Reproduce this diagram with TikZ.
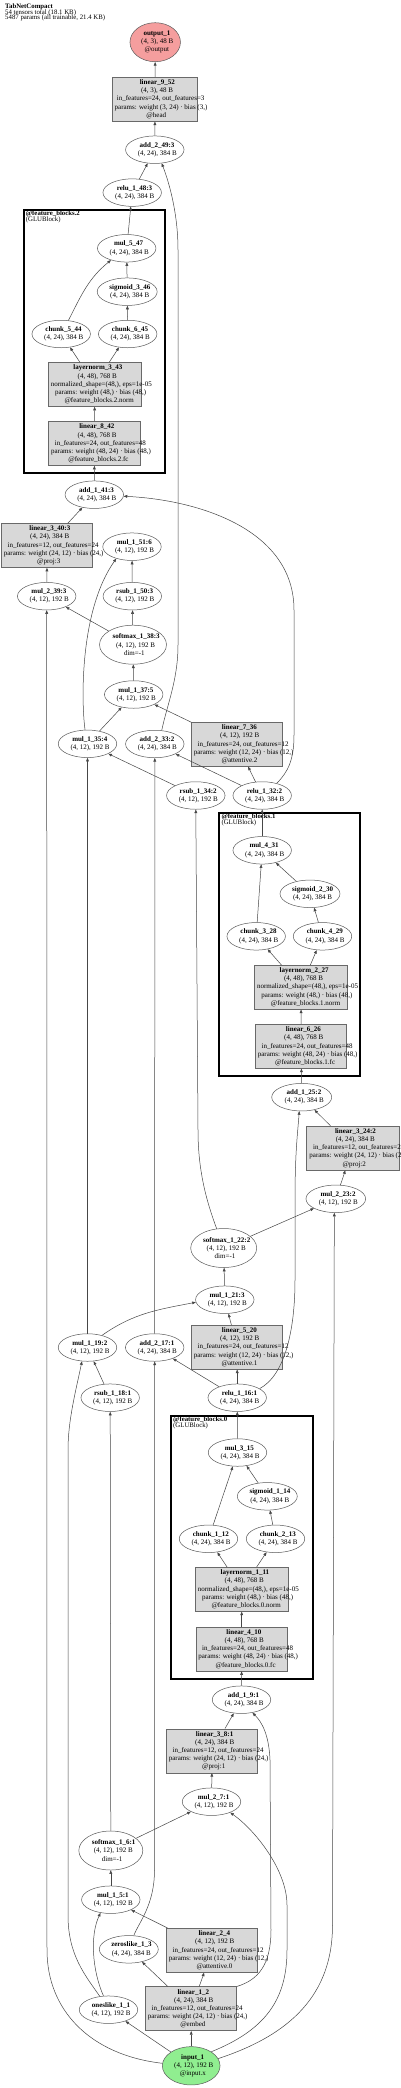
\documentclass[tikz,border=0pt]{standalone}
\usepackage{fontspec}
\setmainfont{Liberation Serif}
\usetikzlibrary{shapes.geometric,arrows.meta}
\definecolor{boxfill}{RGB}{216,216,216}
\definecolor{boxline}{RGB}{105,105,105}
\definecolor{ellline}{RGB}{90,90,90}
\definecolor{edgecol}{RGB}{70,70,70}
\definecolor{outfill}{RGB}{245,158,158}
\definecolor{infill}{RGB}{144,238,144}
\newcommand\gl[1]{\makebox[0.87\width][l]{#1}}
\newcommand\gtwo[2]{\gl{\textbf{#1}}\\\gl{#2}}
\newcommand\gthree[3]{\gl{\textbf{#1}}\\\gl{#2}\\\gl{#3}}
\newcommand\gfive[5]{\gl{\textbf{#1}}\\\gl{#2}\\\gl{#3}\\\gl{#4}\\\gl{#5}}
\tikzset{
  nd/.style={inner sep=0pt, align=center, font=\fontsize{7}{8.2}\selectfont},
  ell/.style={nd, ellipse, draw=ellline, line width=0.5pt, fill=white, minimum width=58.5pt, minimum height=27.5pt},
  smx/.style={ell, minimum width=66pt, minimum height=39pt},
  sbox/.style={nd, rectangle, draw=boxline, line width=0.6pt, fill=boxfill, minimum width=91pt, minimum height=44pt},
  clus/.style={draw=black, line width=2pt, inner sep=0pt},
  clab/.style={anchor=north west, inner sep=0pt, align=left, font={\fontsize{6.8}{5.9}\selectfont\lineskiplimit=-10pt}, xshift=3pt, yshift=-1.5pt},
  e/.style={draw=edgecol, line width=0.5pt, -{Triangle[length=3.6pt,width=2.8pt]}},
}
\begin{document}
\begin{tikzpicture}[x=1pt,y=-1pt]
\useasboundingbox (0,0) rectangle (400,2088);
\fill[white] (0,0) rectangle (400,2088);

\node[anchor=north west, inner sep=0pt, align=left, font={\fontsize{6.8}{5.9}\selectfont\lineskiplimit=-10pt}] (title) at (5,3.2) {\textbf{TabNetCompact}\\54 tensors total (18.1 KB)\\5487 params (all trainable, 21.4 KB)};

% clusters
\node[clus, minimum width=141.3pt, minimum height=262.7pt] (fb2) at (94.35,341.65) {};
\node[clab] (fb2lab) at (fb2.north west) {\textbf{@feature\_blocks.2}\\(GLUBlock)};
\node[clus, minimum width=140.7pt, minimum height=262.4pt] (fb1) at (289.65,944.5) {};
\node[clab] (fb1lab) at (fb1.north west) {\textbf{@feature\_blocks.1}\\(GLUBlock)};
\node[clus, minimum width=142pt, minimum height=263pt] (fb0) at (242,1547.5) {};
\node[clab] (fb0lab) at (fb0.north west) {\textbf{@feature\_blocks.0}\\(GLUBlock)};

% nodes
\node[ell, fill=outfill, minimum width=50.5pt, minimum height=39pt] (out1) at (155.2,42.2) {\gthree{output\_1}{(4, 3), 48 B}{@output}};
\node[sbox, minimum width=85.5pt] (lin952) at (155,99.2) {\gfive{linear\_9\_52}{(4, 3), 48 B}{in\_features=24, out\_features=3}{params: weight (3, 24) · bias (3,)}{@head}};
\node[ell] (add249) at (154.8,149.7) {\gtwo{add\_2\_49:3}{(4, 24), 384 B}};
\node[ell] (relu148) at (132.2,192.6) {\gtwo{relu\_1\_48:3}{(4, 24), 384 B}};
\node[ell] (mul547) at (126.7,248.3) {\gtwo{mul\_5\_47}{(4, 24), 384 B}};
\node[ell, minimum width=60pt] (sig346) at (127.2,291.7) {\gtwo{sigmoid\_3\_46}{(4, 24), 384 B}};
\node[ell] (ch544) at (61.2,334) {\gtwo{chunk\_5\_44}{(4, 24), 384 B}};
\node[ell] (ch645) at (127.7,334) {\gtwo{chunk\_6\_45}{(4, 24), 384 B}};
\node[sbox, minimum width=93pt] (ln343) at (94.7,384.5) {\gfive{layernorm\_3\_43}{(4, 48), 768 B}{normalized\_shape=(48,), eps=1e-05}{params: weight (48,) · bias (48,)}{@feature\_blocks.2.norm}};
\node[sbox, minimum width=91.7pt] (lin842) at (94.5,443.5) {\gfive{linear\_8\_42}{(4, 48), 768 B}{in\_features=24, out\_features=48}{params: weight (48, 24) · bias (48,)}{@feature\_blocks.2.fc}};
\node[ell] (add141) at (94.3,494.7) {\gtwo{add\_1\_41:3}{(4, 24), 384 B}};
\node[sbox] (lin340) at (47.2,545.5) {\gfive{linear\_3\_40:3}{(4, 24), 384 B}{in\_features=12, out\_features=24}{params: weight (24, 12) · bias (24,)}{@proj:3}};
\node[ell] (mul151) at (132,546.7) {\gtwo{mul\_1\_51:6}{(4, 12), 192 B}};
\node[ell] (mul239) at (46.7,596.2) {\gtwo{mul\_2\_39:3}{(4, 12), 192 B}};
\node[ell] (rsub150) at (132.3,596.2) {\gtwo{rsub\_1\_50:3}{(4, 12), 192 B}};
\node[smx, minimum width=67pt] (sm138) at (133,644.7) {\gthree{softmax\_1\_38:3}{(4, 12), 192 B}{dim=-1}};
\node[ell] (mul137) at (133.7,694.5) {\gtwo{mul\_1\_37:5}{(4, 12), 192 B}};
\node[ell] (mul135) at (87.5,743.8) {\gtwo{mul\_1\_35:4}{(4, 12), 192 B}};
\node[ell] (add233) at (154.8,744) {\gtwo{add\_2\_33:2}{(4, 24), 384 B}};
\node[sbox] (lin736) at (237.2,744.3) {\gfive{linear\_7\_36}{(4, 12), 192 B}{in\_features=24, out\_features=12}{params: weight (12, 24) · bias (12,)}{@attentive.2}};
\node[ell] (rsub134) at (195.8,795.5) {\gtwo{rsub\_1\_34:2}{(4, 12), 192 B}};
\node[ell] (relu132) at (262.2,795.5) {\gtwo{relu\_1\_32:2}{(4, 24), 384 B}};
\node[ell] (mul431) at (262.2,850.3) {\gtwo{mul\_4\_31}{(4, 24), 384 B}};
\node[ell, minimum width=60pt] (sig230) at (310,893.8) {\gtwo{sigmoid\_2\_30}{(4, 24), 384 B}};
\node[ell] (ch328) at (256.2,936.3) {\gtwo{chunk\_3\_28}{(4, 24), 384 B}};
\node[ell] (ch429) at (322.5,936.3) {\gtwo{chunk\_4\_29}{(4, 24), 384 B}};
\node[sbox, minimum width=93.3pt] (ln227) at (301,987.2) {\gfive{layernorm\_2\_27}{(4, 48), 768 B}{normalized\_shape=(48,), eps=1e-05}{params: weight (48,) · bias (48,)}{@feature\_blocks.1.norm}};
\node[sbox] (lin626) at (301.2,1046.3) {\gfive{linear\_6\_26}{(4, 48), 768 B}{in\_features=24, out\_features=48}{params: weight (48, 24) · bias (48,)}{@feature\_blocks.1.fc}};
\node[ell, minimum width=60pt] (add125) at (301.7,1097.2) {\gtwo{add\_1\_25:2}{(4, 24), 384 B}};
\node[sbox, minimum width=92.3pt] (lin324) at (352.8,1148) {\gfive{linear\_3\_24:2}{(4, 24), 384 B}{in\_features=12, out\_features=24}{params: weight (24, 12) · bias (24,)}{@proj:2}};
\node[ell, minimum width=59.7pt] (mul223) at (335.8,1198.8) {\gtwo{mul\_2\_23:2}{(4, 12), 192 B}};
\node[smx] (sm122) at (223.7,1248) {\gthree{softmax\_1\_22:2}{(4, 12), 192 B}{dim=-1}};
\node[ell] (mul121) at (224.8,1299.7) {\gtwo{mul\_1\_21:3}{(4, 12), 192 B}};
\node[sbox] (lin520) at (237.2,1347.2) {\gfive{linear\_5\_20}{(4, 12), 192 B}{in\_features=24, out\_features=12}{params: weight (12, 24) · bias (12,)}{@attentive.1}};
\node[ell] (mul119) at (87.5,1347.5) {\gtwo{mul\_1\_19:2}{(4, 12), 192 B}};
\node[ell] (add217) at (154.7,1347.5) {\gtwo{add\_2\_17:1}{(4, 24), 384 B}};
\node[ell] (relu116) at (237.2,1397.7) {\gtwo{relu\_1\_16:1}{(4, 24), 384 B}};
\node[ell] (rsub118) at (110.2,1397.7) {\gtwo{rsub\_1\_18:1}{(4, 12), 192 B}};
\node[ell] (mul315) at (237.5,1452.5) {\gtwo{mul\_3\_15}{(4, 24), 384 B}};
\node[ell, minimum width=60pt] (sig114) at (267.3,1496.3) {\gtwo{sigmoid\_1\_14}{(4, 24), 384 B}};
\node[ell] (ch112) at (208.5,1538.8) {\gtwo{chunk\_1\_12}{(4, 24), 384 B}};
\node[ell] (ch213) at (275.5,1538.8) {\gtwo{chunk\_2\_13}{(4, 24), 384 B}};
\node[sbox, minimum width=93.3pt] (ln111) at (241.7,1589.3) {\gfive{layernorm\_1\_11}{(4, 48), 768 B}{normalized\_shape=(48,), eps=1e-05}{params: weight (48,) · bias (48,)}{@feature\_blocks.0.norm}};
\node[sbox] (lin410) at (241.7,1649) {\gfive{linear\_4\_10}{(4, 48), 768 B}{in\_features=24, out\_features=48}{params: weight (48, 24) · bias (48,)}{@feature\_blocks.0.fc}};
\node[ell] (add19) at (241.5,1699.7) {\gtwo{add\_1\_9:1}{(4, 24), 384 B}};
\node[sbox] (lin38) at (212.2,1750.8) {\gfive{linear\_3\_8:1}{(4, 24), 384 B}{in\_features=12, out\_features=24}{params: weight (24, 12) · bias (24,)}{@proj:1}};
\node[ell] (mul27) at (211.5,1801.7) {\gtwo{mul\_2\_7:1}{(4, 12), 192 B}};
\node[smx, minimum width=64pt] (sm16) at (110.8,1850.5) {\gthree{softmax\_1\_6:1}{(4, 12), 192 B}{dim=-1}};
\node[ell] (mul15) at (110.8,1899.7) {\gtwo{mul\_1\_5:1}{(4, 12), 192 B}};
\node[ell, minimum width=59pt] (zeros13) at (128.8,1949.3) {\gtwo{zeroslike\_1\_3}{(4, 24), 384 B}};
\node[sbox] (lin24) at (212.2,1950.3) {\gfive{linear\_2\_4}{(4, 12), 192 B}{in\_features=24, out\_features=12}{params: weight (12, 24) · bias (12,)}{@attentive.0}};
\node[sbox] (lin12) at (191.2,2008.7) {\gfive{linear\_1\_2}{(4, 24), 384 B}{in\_features=12, out\_features=24}{params: weight (24, 12) · bias (24,)}{@embed}};
\node[ell] (ones11) at (108.5,2009.7) {\gtwo{oneslike\_1\_1}{(4, 12), 192 B}};
\node[ell, fill=infill, minimum width=57.7pt, minimum height=38.3pt] (in1) at (191.2,2065.8) {\gthree{input\_1}{(4, 12), 192 B}{@input.x}};

% straight edges
\draw[e] (lin952) -- (out1);
\draw[e] (add249) -- (lin952);
\draw[e] (relu148) -- (add249);
\draw[e] (mul547) -- (relu148);
\draw[e] (sig346) -- (mul547);
\draw[e] (ch645) -- (sig346);
\draw[e] (ln343) -- (ch544);
\draw[e] (ln343) -- (ch645);
\draw[e] (lin842) -- (ln343);
\draw[e] (add141) -- (lin842);
\draw[e] (lin340) -- (add141);
\draw[e] (mul239) -- (lin340);
\draw[e] (rsub150) -- (mul151);
\draw[e] (sm138) -- (rsub150);
\draw[e] (sm138) -- (mul239);
\draw[e] (mul137) -- (sm138);
\draw[e] (lin736) -- (mul137);
\draw[e] (mul135) -- (mul137);
\draw[e] (rsub134) -- (mul135);
\draw[e] (relu132) -- (add233);
\draw[e] (relu132) -- (lin736);
\draw[e] (mul431) -- (relu132);
\draw[e] (sig230) -- (mul431);
\draw[e] (ch328) -- (mul431);
\draw[e] (ch429) -- (sig230);
\draw[e] (ln227) -- (ch328);
\draw[e] (ln227) -- (ch429);
\draw[e] (lin626) -- (ln227);
\draw[e] (add125) -- (lin626);
\draw[e] (lin324) -- (add125);
\draw[e] (mul223) -- (lin324);
\draw[e] (sm122) -- (mul223);
\draw[e] (mul121) -- (sm122);
\draw[e] (lin520) -- (mul121);
\draw[e] (add217) -- (add233);
\draw[e] (mul119) -- (mul135);
\draw[e] (rsub118) -- (mul119);
\draw[e] (relu116) -- (add217);
\draw[e] (relu116) -- (lin520);
\draw[e] (mul315) -- (relu116);
\draw[e] (sig114) -- (mul315);
\draw[e] (ch112) -- (mul315);
\draw[e] (ch213) -- (sig114);
\draw[e] (ln111) -- (ch112);
\draw[e] (ln111) -- (ch213);
\draw[e] (lin410) -- (ln111);
\draw[e] (add19) -- (lin410);
\draw[e] (lin38) -- (add19);
\draw[e] (mul27) -- (lin38);
\draw[e] (sm16) -- (mul27);
\draw[e] (sm16) -- (rsub118);
\draw[e] (mul15) -- (sm16);
\draw[e] (lin24) -- (mul15);
\draw[e] (lin12) -- (zeros13);
\draw[e] (lin12) -- (lin24);
\draw[e] (in1) -- (lin12);
\draw[e] (in1) -- (ones11);

% curved edges
\draw[e] (ch544.62) to[out=63,in=-141] (mul547.-143);
\draw[e] (mul119.40) to[out=35,in=-169] (mul121.-175);
\draw[e] (add233.63) .. controls (167,705) and (178,680) .. (178,645) -- (178,250) .. controls (178,215) and (170,185) .. (add249.-63);
\draw[e] (relu132.40) .. controls (288,772) and (294,760) .. (294,735) -- (294,610) .. controls (294,530) and (200,500) .. (add141.-3);
\draw[e] (sm122.110) .. controls (206,1200) and (198,1170) .. (198,1130) -- (rsub134.south);
\draw[e] (in1.15) .. controls (290,2035) and (332.5,1995) .. (332.5,1925) -- (mul223.-96);
\draw[e] (in1.35) .. controls (265,2030) and (287,2000) .. (287,1950) -- (287,1905) .. controls (287,1870) and (255,1830) .. (mul27.-30);
\draw[e] (lin12.north east) .. controls (258,1980) and (271,1965) .. (271,1930) -- (270,1760) .. controls (269,1735) and (262,1722) .. (add19.-50);
\draw[e] (in1.175) .. controls (90,2055) and (47,2010) .. (47,1950) -- (mul239.south);
\draw[e] (ones11.123) .. controls (85,1975) and (68,1955) .. (68,1915) -- (68,1450) .. controls (68,1420) and (76,1390) .. (mul119.-112);
\draw[e] (ones11.110) .. controls (92,1970) and (90,1935) .. (mul15.-128);
\draw[e] (zeros13.70) .. controls (139,1922) and (154.5,1905) .. (154.5,1870) -- (add217.south);
\draw[e] (mul135.100) .. controls (81,700) and (80,610) .. (mul151.-143);
\draw[e] (relu116.22) .. controls (285,1375) and (295,1330) .. (295,1280) -- (295,1200) .. controls (295,1150) and (298,1130) .. (add125.-100);
\end{tikzpicture}
\end{document}
